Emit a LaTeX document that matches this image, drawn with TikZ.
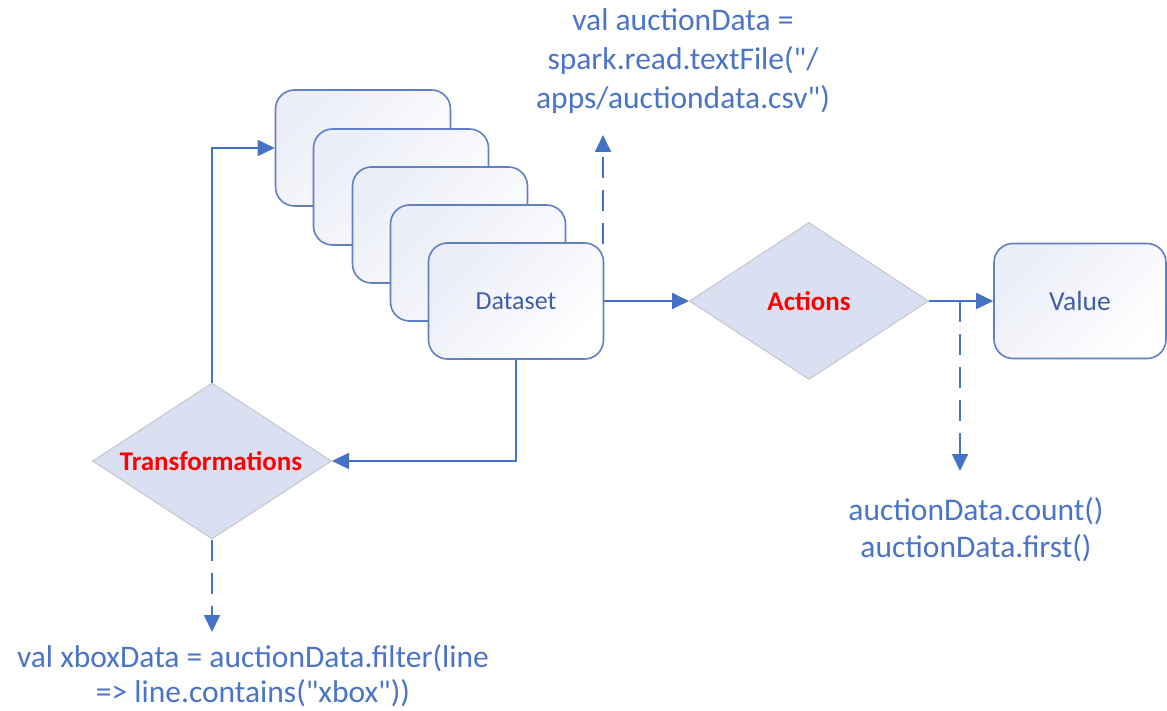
\documentclass[tikz,border=0pt]{standalone}
\usepackage{fontspec}
\setmainfont{Carlito}[Ligatures=TeXOff]
\usetikzlibrary{arrows.meta,shapes.geometric}
\definecolor{lineblue}{HTML}{4472C4}
\definecolor{codeblue}{HTML}{4A74C8}
\definecolor{boxedge}{HTML}{6080C4}
\definecolor{boxshade}{HTML}{EBEDF7}
\definecolor{boxtext}{HTML}{3F5EA6}
\definecolor{diafill}{HTML}{D9E0F1}
\definecolor{diaedge}{HTML}{C4C6CC}
\tikzset{
  stackbox/.style={draw=boxedge, line width=1.6pt, rounded corners=19pt,
    minimum width=175pt, minimum height=116pt, inner sep=0pt,
    top color=boxshade, bottom color=white, shading angle=45,
    text=boxtext, font=\fontsize{26}{30}\selectfont},
  diabox/.style={diamond, draw=diaedge, line width=1pt, fill=diafill,
    minimum width=239pt, minimum height=157pt, inner sep=0pt},
  difftext/.style={text=red, font=\bfseries\fontsize{27}{30}\selectfont},
  codetext/.style={text=codeblue, align=center, font=\fontsize{31.5}{37}\selectfont},
  conn/.style={draw=lineblue, line width=1.8pt, -{Triangle[length=17pt,width=16pt]}},
  dconn/.style={conn, dash pattern=on 21pt off 12pt}
}
\begin{document}
\begin{tikzpicture}[x=1pt,y=-1pt]
\useasboundingbox (0,0) rectangle (1167,711);
% stacked datasets
\node[stackbox] (b1) at (363,148) {};
\node[stackbox] (b2) at (401,187) {};
\node[stackbox] (b3) at (440,225) {};
\node[stackbox] (b4) at (478,263) {};
\node[stackbox] (ds) at (516,301) {Dataset};
% value
\node[stackbox, minimum width=172pt, minimum height=115pt, font=\fontsize{27.5}{30}\selectfont] (val) at (1080,301) {Value};
% diamonds
\node[diabox] (act) at (809,301) {};
\node[difftext] (actl) at (809,301) {Actions};
\node[diabox, minimum height=156pt] (tr) at (212,461) {};
\node[difftext] (trl) at (211,461) {Transformations};
% code texts
\node[codetext, font=\fontsize{31.5}{39}\selectfont] (topcode) at (683,61) {val auctionData =\\spark.read.textFile("/\\apps/auctiondata.csv")};
\node[codetext] (actcode) at (976,530) {auctionData.count()\\auctionData.first()};
\node[codetext, font=\fontsize{31.5}{35}\selectfont] (trcode) at (253,676) {val xboxData = auctionData.filter(line\\=> line.contains("xbox"))};
% connectors
\draw[conn] (ds.east) -- (act.west);
\draw[conn] (act.east) -- (val.west);
\draw[conn] (ds.south) |- (tr.east);
\draw[conn] (tr.north) |- (b1.west);
\coordinate (dstop) at (603,244);
\coordinate (dsup) at (603,135);
\draw[dconn] (dstop) -- (dsup);
\coordinate (aj) at (960,301);
\coordinate (ajdown) at (960,471);
\draw[dconn] (aj) -- (ajdown);
\coordinate (trdown) at (212,632);
\draw[dconn] (tr.south) -- (trdown);
\end{tikzpicture}
\end{document}
